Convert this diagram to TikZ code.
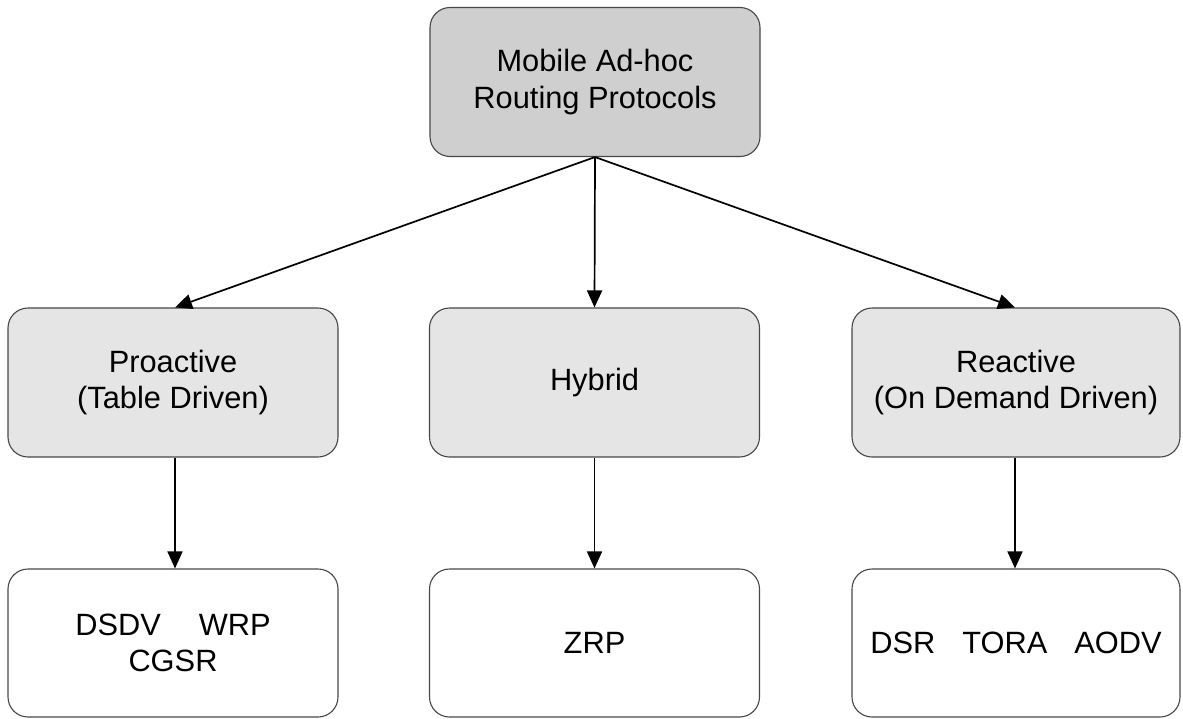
\documentclass[tikz,border=0pt]{standalone}
\usepackage{fontspec}
\setmainfont{Liberation Sans}
\usetikzlibrary{arrows.meta}

\begin{document}
\begin{tikzpicture}[x=1pt,y=-1pt,
  box/.style={draw=black!72, line width=1.1pt, rounded corners=20pt,
    minimum width=330pt, minimum height=149pt, inner sep=0pt, align=center,
    font=\fontsize{30.8pt}{36.5pt}\selectfont},
  rootbox/.style={box, fill=black!19},
  classbox/.style={box, fill=black!10},
  leafbox/.style={box, fill=white, minimum height=148pt},
  arr/.style={draw=black, line width=1.7pt, -{Triangle[length=17pt,width=15pt]}}]
  \useasboundingbox (0,0) rectangle (1183,718);

  % root of the taxonomy
  \node[rootbox] (root) at (595,82) {Mobile Ad-hoc\\Routing Protocols};

  % protocol classes
  \node[classbox] (pro) at (173,382.5) {Proactive\\(Table Driven)};
  \node[classbox] (hyb) at (594.5,382.5) {Hybrid};
  \node[classbox, minimum width=328pt] (rea) at (1016,382.5) {Reactive\\(On Demand Driven)};

  % example protocols
  \node[leafbox] (prolist) at (173,643) {DSDV\hspace{38pt}WRP\\CGSR};
  \node[leafbox] (hyblist) at (594.5,643) {ZRP};
  \node[leafbox, minimum width=328pt] (realist) at (1016,643) {DSR\hspace{27pt}TORA\hspace{27pt}AODV};

  % connectors
  \draw[arr] (root.south) -- ([xshift=2pt]pro.north);
  \draw[arr] (root.south) -- (hyb.north);
  \draw[arr] (root.south) -- ([xshift=-1pt]rea.north);
  \draw[arr] ([xshift=2pt]pro.south) -- ([xshift=2pt]prolist.north);
  \draw[arr] (hyb.south) -- (hyblist.north);
  \draw[arr] ([xshift=-1pt]rea.south) -- ([xshift=-1pt]realist.north);
\end{tikzpicture}
\end{document}
